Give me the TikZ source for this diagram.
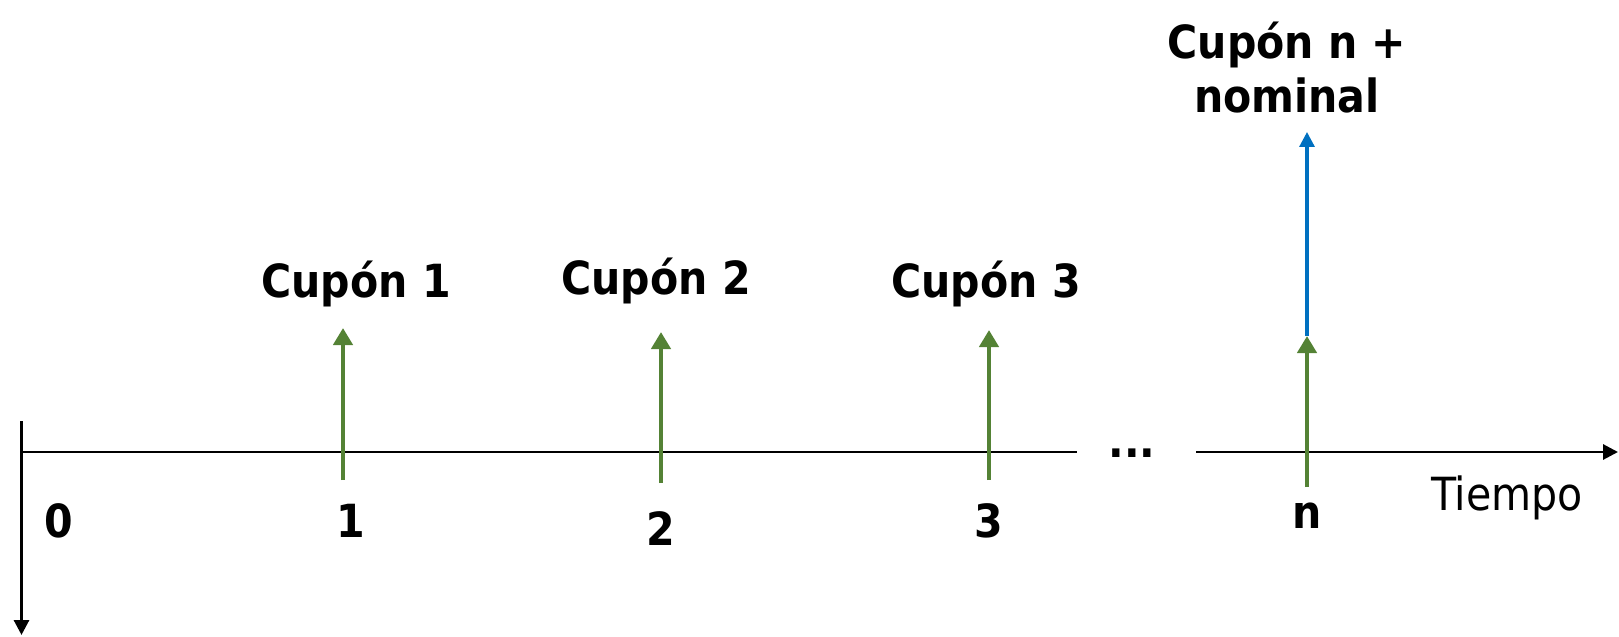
\documentclass[tikz,border=0pt]{standalone}
\usepackage{fontspec}
\setmainfont{DejaVu Sans Condensed}
\usetikzlibrary{arrows.meta}
\definecolor{cupColor}{HTML}{548235}
\definecolor{nomColor}{HTML}{0070C0}
\tikzset{
	lbl/.style={font=\fontsize{26}{31}\selectfont\bfseries, inner sep=0},
	axis/.style={draw=black, line width=1.7pt},
	cup/.style={draw=cupColor, line width=2.8pt, -{Triangle[length=0.34cm,width=0.38cm]}},
	nom/.style={draw=nomColor, line width=1.8pt, -{Triangle[length=0.3cm,width=0.3cm]}}
}

\begin{document}
\begin{tikzpicture}[>={Triangle[length=0.3cm,width=0.3cm]}]
	\useasboundingbox (0,0) rectangle (32.38,12.72);
	% time axis
	\coordinate (vtop) at (0.43,4.30);
	\coordinate (vbot) at (0.43,0.02);
	\coordinate (o) at (0.43,3.68);
	\coordinate (gapL) at (21.54,3.68);
	\coordinate (gapR) at (23.92,3.68);
	\coordinate (tend) at (32.36,3.68);
	\draw[axis,->] (vtop) -- (vbot);
	\draw[axis] (o) -- (gapL);
	\draw[axis,->] (gapR) -- (tend);
	\node[lbl, anchor=base] (dots) at (22.64,3.58) {...};
	\node[font=\fontsize{26}{31}\selectfont, inner sep=0] (tiempo) at (30.14,2.76) {Tiempo};
	
	% periods
	\node[lbl] (p0) at (1.18,2.30) {0};
	\node[lbl] (p1) at (7.02,2.30) {1};
	\node[lbl] (p2) at (13.22,2.14) {2};
	\node[lbl] (p3) at (19.78,2.30) {3};
	\node[lbl] (pn) at (26.14,2.40) {n};
	
	% coupons
	\coordinate (c1b) at (6.86,3.12);
	\coordinate (c1t) at (6.86,6.16);
	\coordinate (c2b) at (13.22,3.06);
	\coordinate (c2t) at (13.22,6.08);
	\coordinate (c3b) at (19.78,3.12);
	\coordinate (c3t) at (19.78,6.12);
	\coordinate (cnb) at (26.14,2.98);
	\coordinate (cnt) at (26.14,6.00);
	\coordinate (nomt) at (26.14,10.08);
	\draw[nom] (cnt) -- (nomt);
	\draw[cup] (c1b) -- (c1t);
	\draw[cup] (c2b) -- (c2t);
	\draw[cup] (c3b) -- (c3t);
	\draw[cup] (cnb) -- (cnt);
	
	\node[lbl] (l1) at (7.12,7.04) {Cupón 1};
	\node[lbl] (l2) at (13.12,7.10) {Cupón 2};
	\node[lbl] (l3) at (19.72,7.04) {Cupón 3};
	\node[lbl, align=center] (ln) at (25.74,11.37) {Cupón n +\\nominal};
\end{tikzpicture}
\end{document}
